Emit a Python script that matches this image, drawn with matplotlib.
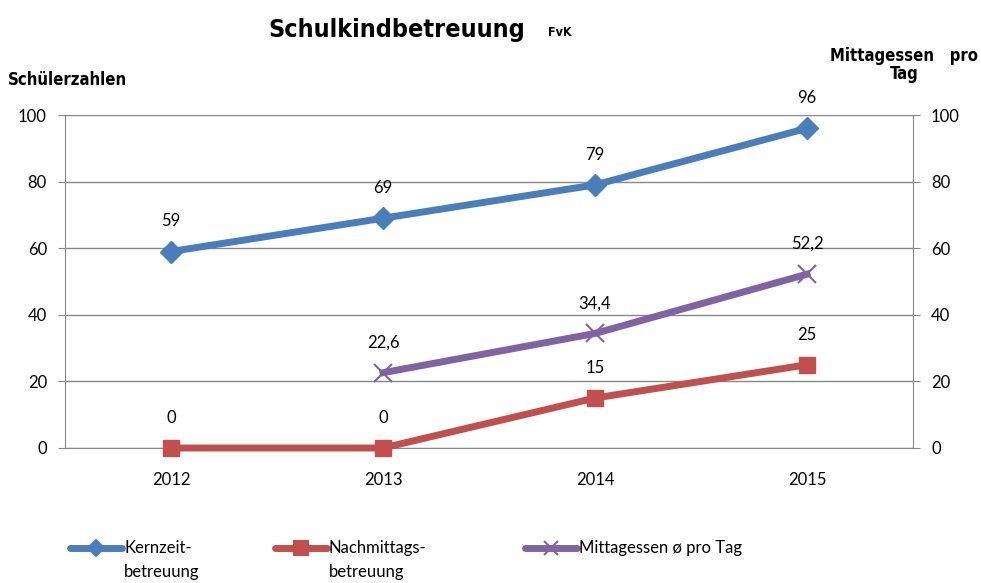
import matplotlib
matplotlib.use("Agg")
import matplotlib.pyplot as plt
from matplotlib.lines import Line2D
import numpy as np

years = ["2012", "2013", "2014", "2015"]
kernzeit = [59, 69, 79, 96]
nachmittag = [0, 0, 15, 25]
mittagessen = [np.nan, 22.6, 34.4, 52.2]
mittag_labels = ["", "22,6", "34,4", "52,2"]
yticks = [0, 20, 40, 60, 80, 100]

plt.rcParams['font.family'] = ['Lato', 'DejaVu Sans']
narrow = ['DejaVu Sans']

fig = plt.figure(figsize=(9.81, 5.83), dpi=100)
ax = fig.add_axes([65/981, 1-448/583, 848/981, 333/583])
ax2 = ax.twinx()

x = np.arange(len(years))
blue, red, purple = "#4A7EBB", "#C0504D", "#8064A2"

ax.plot(x, kernzeit, color=blue, lw=5, marker="D", ms=11, zorder=3, clip_on=False)
ax.plot(x, nachmittag, color=red, lw=5, marker="s", ms=12, zorder=3, clip_on=False)
ax2.plot(x, mittagessen, color=purple, lw=5, marker="x", ms=13, mew=1.5, zorder=3, clip_on=False)

for xi, v in zip(x, kernzeit):
    ax.annotate(f"{v}", (xi, v), xytext=(0, 16), textcoords="offset points",
                ha="center", va="bottom", fontsize=12)
for xi, v in zip(x, nachmittag):
    ax.annotate(f"{v}", (xi, v), xytext=(0, 16), textcoords="offset points",
                ha="center", va="bottom", fontsize=12)
for xi, v, lab in zip(x, mittagessen, mittag_labels):
    if lab:
        ax2.annotate(lab, (xi, v), xytext=(0, 16), textcoords="offset points",
                     ha="center", va="bottom", fontsize=12)

for a in (ax, ax2):
    a.set_ylim(0, 100)
    a.set_yticks(yticks)
    a.tick_params(axis="y", labelsize=12, length=5, color="#888888", pad=8)
    for s in a.spines.values():
        s.set_visible(False)
ax.set_xlim(-0.5, 3.5)
ax.set_xticks(x)
ax.set_xticklabels(years)
ax.tick_params(axis="x", labelsize=12, length=0, pad=17)
ax.spines["left"].set_visible(True)
ax.spines["left"].set_color("#888888")
ax.spines["bottom"].set_visible(True)
ax.spines["bottom"].set_color("#888888")
ax2.spines["right"].set_visible(True)
ax2.spines["right"].set_color("#888888")
ax.yaxis.grid(True, color="#888888", lw=1)
ax.set_axisbelow(True)

fig.text(268/981, 1-30/583, "Schulkindbetreuung", family=narrow, fontweight="bold",
         fontstretch="condensed", fontsize=18, ha="left", va="center")
fig.text(548/981, 1-33/583, "FvK", family=narrow, fontweight="bold",
         fontstretch="condensed", fontsize=9, ha="left", va="center")
fig.text(8/981, 1-80/583, "Schülerzahlen", family=narrow, fontweight="bold",
         fontstretch="condensed", fontsize=12, ha="left", va="center")
fig.text(978/981, 1-65/583, "Mittagessen   pro\nTag", family=narrow, fontweight="bold",
         fontstretch="condensed", fontsize=12, ha="right", va="center",
         multialignment="center", linespacing=1.0)

legend_items = [
    (blue, "D", 8, "Kernzeit-\nbetreuung", 70),
    (red, "s", 10, "Nachmittags-\nbetreuung", 275),
    (purple, "x", 10, "Mittagessen ø pro Tag", 525),
]
ly = 1 - 548/583
for col, mk, ms, lab, px in legend_items:
    fig.add_artist(Line2D([px/981, (px+52)/981], [ly, ly], transform=fig.transFigure,
                          color=col, lw=5, solid_capstyle="round"))
    fig.add_artist(Line2D([(px+26)/981], [ly], transform=fig.transFigure,
                          color=col, marker=mk, ms=ms, mew=1.5, lw=0))
    fig.text((px+54)/981, 1-540/583, lab, fontsize=12, ha="left", va="top",
             linespacing=1.6)

fig.savefig("out.png", dpi=100)
